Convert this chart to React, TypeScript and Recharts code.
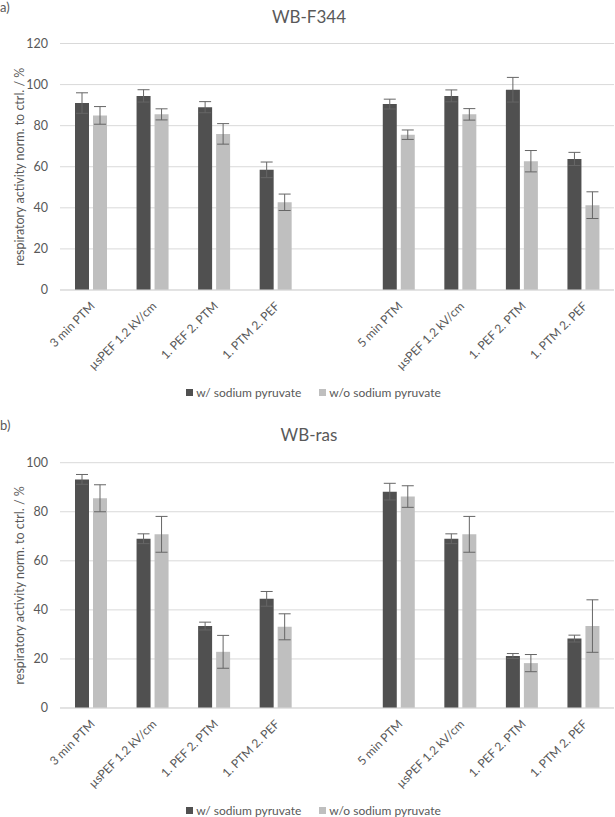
import React from 'react';
import { BarChart, Bar, XAxis, YAxis, CartesianGrid, ErrorBar, Legend } from 'recharts';

const categories = [
  '3 min PTM',
  'µsPEF 1.2 kV/cm',
  '1. PEF 2. PTM',
  '1. PTM 2. PEF',
  '',
  '5 min PTM',
  'µsPEF 1.2 kV/cm',
  '1. PEF 2. PTM',
  '1. PTM 2. PEF',
];
const seriesNames = ['w/ sodium pyruvate', 'w/o sodium pyruvate'];

// Panel a) WB-F344
const f344With = [91, 94.5, 89, 58.5, null, 90.5, 94.5, 97.5, 63.8];
const f344WithErr = [5, 3, 2.7, 3.8, null, 2.4, 2.9, 6, 3.2];
const f344Without = [85, 85.5, 76, 42.7, null, 75.6, 85.5, 62.7, 41.3];
const f344WithoutErr = [4.3, 2.7, 5, 4, null, 2.3, 2.8, 5.2, 6.5];
const f344Ticks = [0, 20, 40, 60, 80, 100, 120];

// Panel b) WB-ras
const rasWith = [93.2, 69, 33.4, 44.5, null, 88.2, 69, 21.2, 28.3];
const rasWithErr = [2, 2, 1.6, 3, null, 3.4, 2, 1, 1.4];
const rasWithout = [85.5, 70.8, 22.9, 33.1, null, 86.2, 70.8, 18.3, 33.4];
const rasWithoutErr = [5.5, 7.3, 6.7, 5.3, null, 4.4, 7.3, 3.5, 10.7];
const rasTicks = [0, 20, 40, 60, 80, 100];

const yLabel = 'respiratory activity norm. to ctrl. / %';

const FONT = 'Lato, "Open Sans", sans-serif';
const TEXT = '#595959';
const DARK = '#505050';
const LIGHT = '#bfbfbf';
const GRID = '#d9d9d9';
const ERR = '#666666';

function buildRows(w: (number | null)[], wErr: (number | null)[], wo: (number | null)[], woErr: (number | null)[]) {
  return categories.map((c, i) => ({ label: c, w: w[i], wErr: wErr[i], wo: wo[i], woErr: woErr[i] }));
}

const XTick = (props: any) => {
  const { x, y, payload } = props;
  const ax = x + 2;
  const ay = y + 14;
  return (
    <text
      x={ax}
      y={ay}
      dy="0.35em"
      transform={`rotate(-45 ${ax} ${ay})`}
      textAnchor="end"
      fill={TEXT}
      fontSize={12}
      fontFamily={FONT}
    >
      {payload.value}
    </text>
  );
};

const renderYLabel = (props: any) => {
  const vb = props.viewBox || { y: 0, height: 0 };
  const cx = 20;
  const cy = vb.y + vb.height / 2;
  return (
    <text
      x={cx}
      y={cy}
      dy="0.35em"
      transform={`rotate(-90 ${cx} ${cy})`}
      textAnchor="middle"
      fill={TEXT}
      fontSize={12.5}
      fontFamily={FONT}
    >
      {yLabel}
    </text>
  );
};

const LegendContent = () => (
  <div
    style={{
      display: 'flex',
      justifyContent: 'center',
      alignItems: 'center',
      height: 20,
      paddingLeft: 12,
      fontFamily: FONT,
      fontSize: 12,
      color: TEXT,
    }}
  >
    <span style={{ display: 'inline-block', width: 7, height: 7, background: DARK, marginRight: 3 }} />
    <span>{seriesNames[0]}</span>
    <span style={{ display: 'inline-block', width: 7, height: 7, background: LIGHT, marginLeft: 18, marginRight: 3 }} />
    <span>{seriesNames[1]}</span>
  </div>
);

type PanelProps = {
  top: number;
  tag: string;
  title: string;
  rows: any[];
  ticks: number[];
  marginTop: number;
};

const Panel = ({ top, tag, title, rows, ticks, marginTop }: PanelProps) => (
  <div style={{ position: 'absolute', left: 0, top, width: 615, height: 410 }}>
    <div
      style={{
        position: 'absolute',
        left: 0,
        top: 0,
        fontFamily: FONT,
        fontSize: 13,
        color: TEXT,
        lineHeight: '14px',
      }}
    >
      {tag}
    </div>
    <div
      style={{
        position: 'absolute',
        left: 0,
        width: 618,
        top: 6,
        textAlign: 'center',
        fontFamily: FONT,
        fontSize: 17,
        color: TEXT,
        lineHeight: '22px',
      }}
    >
      {title}
    </div>
    <BarChart
      width={615}
      height={410}
      data={rows}
      margin={{ top: marginTop, right: 1, left: 0, bottom: 8 }}
      barSize={14}
      barGap={4}
    >
      <CartesianGrid horizontal vertical={false} stroke={GRID} />
      <XAxis
        dataKey="label"
        height={92}
        interval={0}
        tickLine={false}
        tickSize={0}
        tickMargin={0}
        axisLine={{ stroke: GRID }}
        tick={<XTick />}
      />
      <YAxis
        width={60}
        domain={[0, ticks[ticks.length - 1]]}
        ticks={ticks}
        axisLine={false}
        tickLine={false}
        tickSize={0}
        tickMargin={12}
        tick={{ fill: TEXT, fontSize: 12.5, fontFamily: FONT }}
        label={renderYLabel}
      />
      <Legend verticalAlign="bottom" height={20} wrapperStyle={{ left: 0, width: 615 }} content={() => <LegendContent />} />
      <Bar dataKey="w" name={seriesNames[0]} fill={DARK} isAnimationActive={false}>
        <ErrorBar dataKey="wErr" width={6} stroke={ERR} strokeWidth={1} direction="y" />
      </Bar>
      <Bar dataKey="wo" name={seriesNames[1]} fill={LIGHT} isAnimationActive={false}>
        <ErrorBar dataKey="woErr" width={6} stroke={ERR} strokeWidth={1} direction="y" />
      </Bar>
    </BarChart>
  </div>
);

export default function App() {
  const rowsA = buildRows(f344With, f344WithErr, f344Without, f344WithoutErr);
  const rowsB = buildRows(rasWith, rasWithErr, rasWithout, rasWithoutErr);
  return (
    <div style={{ position: 'absolute', left: 0, top: 0, width: 615, height: 817, background: '#fff', overflow: 'hidden' }}>
      <Panel top={0} tag="a)" title="WB-F344" rows={rowsA} ticks={f344Ticks} marginTop={43.5} />
      <Panel top={418} tag="b)" title="WB-ras" rows={rowsB} ticks={rasTicks} marginTop={44.7} />
    </div>
  );
}
